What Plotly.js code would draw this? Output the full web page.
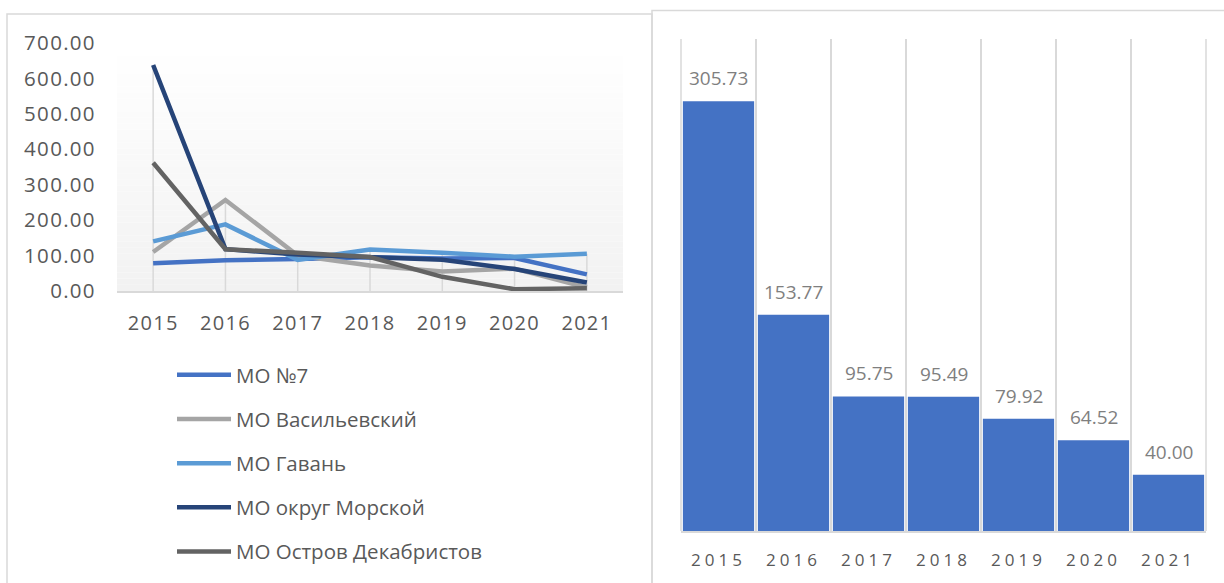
<!DOCTYPE html>
<html>
<head>
<meta charset="utf-8">
<script src="https://cdn.plot.ly/plotly-3.0.1.min.js"></script>
<style>
  html, body { margin: 0; padding: 0; background: #ffffff; }
  #chart { width: 1224px; height: 583px; }
  .xtick text, .ytick text { letter-spacing: 1.3px; }
  .x2tick text { letter-spacing: 4px; }
</style>
</head>
<body>
<div id="chart"></div>
<script>
// ---------- DATA ----------
const years = ['2015', '2016', '2017', '2018', '2019', '2020', '2021'];

const seriesNames = ['МО №7', 'МО Васильевский', 'МО Гавань', 'МО округ Морской', 'МО Остров Декабристов'];
const mo7         = [78, 87, 90, 95, 92, 93, 47];
const vasilevsky  = [110, 257, 100, 72, 55, 63, 10];
const gavan       = [140, 188, 88, 117, 108, 97, 105];
const morskoy     = [638, 118, 103, 95, 88, 62, 24];
const dekabristov = [362, 118, 108, 96, 40, 5, 8];

const barValues = [305.73, 153.77, 95.75, 95.49, 79.92, 64.52, 40.00];

const yTickValues = [0, 100, 200, 300, 400, 500, 600, 700];

// ---------- STYLE ----------
const seriesColors = ['#4472C4', '#A5A5A5', '#5B9BD5', '#264478', '#636363'];
const W = 1224, H = 583;
const px = v => v / W;
const py = v => 1 - v / H;

const allSeries = [mo7, vasilevsky, gavan, morskoy, dekabristov];

// drop lines (from highest series value at each category down to the axis)
const dropX = [], dropY = [];
years.forEach((yr, i) => {
  const mx = Math.max(...allSeries.map(s => s[i]));
  dropX.push(yr, yr, null);
  dropY.push(mx, 0, null);
});

const traces = [{
  type: 'scatter', mode: 'lines', x: dropX, y: dropY,
  xaxis: 'x', yaxis: 'y', showlegend: false, hoverinfo: 'skip',
  line: { color: '#D9D9D9', width: 1.5 }
}];

allSeries.forEach((s, k) => {
  traces.push({
    type: 'scatter', mode: 'lines', x: years, y: s, name: seriesNames[k],
    legendgroup: 'g' + k,
    xaxis: 'x', yaxis: 'y',
    line: { color: seriesColors[k], width: 4.5 }
  });
});

traces.push({
  type: 'bar', x: years, y: barValues, xaxis: 'x2', yaxis: 'y2',
  showlegend: false,
  marker: { color: '#4472C4', line: { width: 0 } }
});

// gradient background bands for the left plot area
const shapes = [];
const nb = 40;
for (let b = 0; b < nb; b++) {
  const t = b / (nb - 1);               // 0 bottom -> 1 top
  const c = Math.round(242 + (255 - 242) * t);
  shapes.push({
    type: 'rect', xref: 'x domain', yref: 'y domain',
    x0: 0, x1: 1, y0: b / nb, y1: (b + 1) / nb,
    fillcolor: `rgb(${c},${c},${c})`, line: { width: 0 }, layer: 'below'
  });
}
// outer gridlines of the bar plot
[0, 1].forEach(xd => shapes.push({
  type: 'line', xref: 'x2 domain', yref: 'y2 domain',
  x0: xd, x1: xd, y0: 0, y1: 1,
  line: { color: '#D9D9D9', width: 1.5 }, layer: 'below'
}));
// panel borders
shapes.push({
  type: 'rect', xref: 'paper', yref: 'paper',
  x0: px(7), x1: px(652), y0: py(600), y1: py(14),
  line: { color: '#D9D9D9', width: 1.5 }, fillcolor: 'rgba(0,0,0,0)', layer: 'below'
});
shapes.push({
  type: 'rect', xref: 'paper', yref: 'paper',
  x0: px(652), x1: px(1240), y0: py(600), y1: py(10.5),
  line: { color: '#D9D9D9', width: 1.5 }, fillcolor: 'rgba(0,0,0,0)', layer: 'below'
});

const annotations = barValues.map((v, i) => ({
  x: i, y: v, xref: 'x2', yref: 'y2',
  text: v.toFixed(2), showarrow: false,
  xanchor: 'center', yanchor: 'middle', yshift: 23,
  font: { family: 'Open Sans', size: 19, color: '#7F7F7F' }
}));

const layout = {
  width: W, height: H,
  margin: { l: 0, r: 0, t: 0, b: 0 },
  paper_bgcolor: '#ffffff', plot_bgcolor: 'rgba(0,0,0,0)',
  font: { family: 'Open Sans', color: '#595959' },
  showlegend: true,
  legend: {
    x: px(172), y: py(355), xanchor: 'left', yanchor: 'top',
    orientation: 'v', tracegroupgap: 14.5, itemwidth: 54,
    font: { family: 'Open Sans', size: 20.5, color: '#595959' },
    bgcolor: 'rgba(0,0,0,0)'
  },
  xaxis: {
    type: 'category', domain: [px(117), px(623)], range: [-0.5, 6.5],
    anchor: 'y', showgrid: false, zeroline: false,
    showline: true, linecolor: '#D9D9D9', linewidth: 1.5,
    ticks: 'outside', ticklen: 13, tickcolor: 'rgba(0,0,0,0)',
    tickfont: { family: 'Open Sans', size: 20, color: '#595959' },
    fixedrange: true
  },
  yaxis: {
    domain: [py(291), py(43)], range: [0, 700], anchor: 'x',
    tickvals: yTickValues, ticktext: yTickValues.map(v => v.toFixed(2)),
    showgrid: false, zeroline: false, showline: false,
    ticks: 'outside', ticklen: 16, tickcolor: 'rgba(0,0,0,0)',
    tickfont: { family: 'Open Sans', size: 20.5, color: '#595959' },
    fixedrange: true
  },
  xaxis2: {
    type: 'category', domain: [px(681), px(1206)], range: [-0.5, 6.5],
    anchor: 'y2', tickson: 'boundaries',
    showgrid: true, gridcolor: '#D9D9D9', gridwidth: 1.5, zeroline: false,
    showline: true, linecolor: '#D9D9D9', linewidth: 1.5,
    ticks: 'outside', ticklen: 30, ticklabelstandoff: 13, tickcolor: 'rgba(0,0,0,0)',
    tickfont: { family: 'Open Sans', size: 17, color: '#595959' },
    fixedrange: true
  },
  yaxis2: {
    domain: [py(531), py(39)], range: [0, 350], anchor: 'x2',
    visible: false, fixedrange: true
  },
  bargap: 0.05,
  shapes: shapes,
  annotations: annotations
};

Plotly.newPlot('chart', traces, layout, { staticPlot: true, displayModeBar: false });
</script>
</body>
</html>
